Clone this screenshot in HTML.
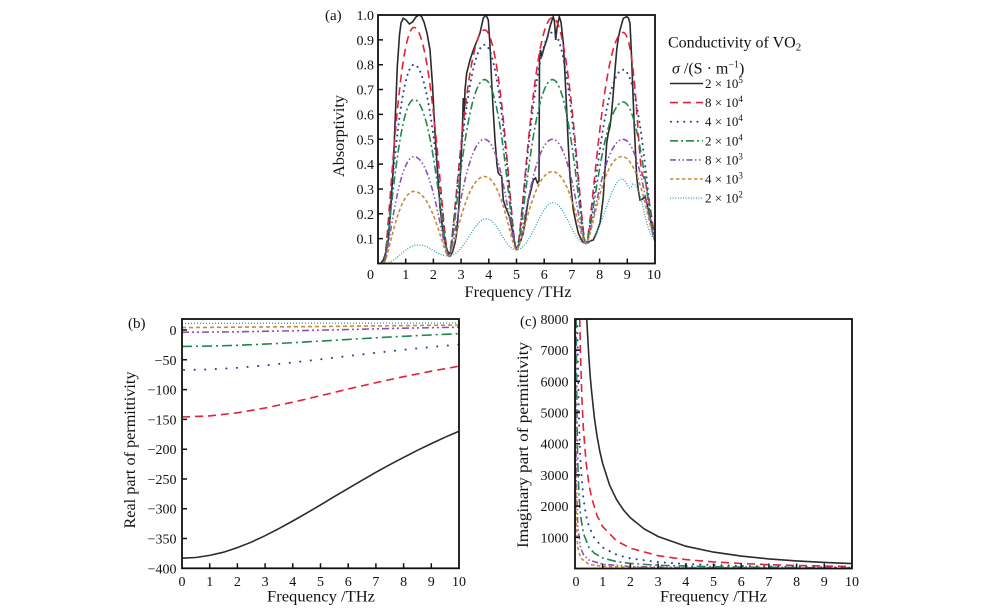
<!DOCTYPE html>
<html>
<head>
<meta charset="utf-8">
<style>
html,body{margin:0;padding:0;background:#fff;}
svg{display:block;}
text{font-family:"Liberation Serif",serif;fill:#111;}
</style>
</head>
<body>
<svg width="1000" height="610" viewBox="0 0 1000 610" xmlns="http://www.w3.org/2000/svg">
<rect x="0" y="0" width="1000" height="610" fill="#fff"/>
<defs>
<clipPath id="ca"><rect x="378" y="15" width="277" height="248.5"/></clipPath>
<clipPath id="cb"><rect x="182" y="319" width="277" height="249.3"/></clipPath>
<clipPath id="cc"><rect x="575" y="319" width="277" height="249.5"/></clipPath>
</defs>

<!-- ================= PANEL A ================= -->
<g clip-path="url(#ca)" fill="none" stroke-width="1.6">
<polyline stroke="#2b2b2b" stroke-width="1.6" points="380.5,263.5 383.3,260 386,252 388.3,240 390.5,212 393.3,166.7 395.5,112 397.3,66.7 399.5,35 401,23 403.3,18.3 406,20 409.3,24 412.5,22 416,17 419,15 421.5,16.5 424,22 427,33 430,50 432.5,85 435,133 437.5,172 440,207 442.5,228 445,243 447.5,251 450,256 452.5,252 455,243 456.7,233 459,205 461,160 462.5,125 463.3,98 464.2,112 465,90 466.7,73 470,60 473.3,50 476.5,42 480,33 483.3,18 486,15 488.3,20 490,45 491.7,83 493.3,112 495,140 497,165 498.3,173 500,175 501.7,176 502.5,190 503.3,200 505.5,207 508,213 510,218 511.7,227 513.5,237 515.5,246 516.7,248.6 518.5,246 521,240 523.3,233 526,215 528.3,200 531,190 533.3,180 535.5,178 537.5,183 539,181 539.5,60 540.5,50 541.7,56.7 544,48 546.7,40 550,26.7 552,20 553.3,16.7 554.5,22 555.7,40 557,28 559.3,16.7 561,22 563.3,43 565,75 566.7,110 568.3,145 570,176.7 571.7,195 573.3,210 576,223 578.3,233 581,239 583,242 585.8,243.6 588,242.5 590.5,241 593.3,240 596.5,233 600,223 601.5,212 603.3,196.7 605,170 606.7,143 608.3,133 610,126.7 611.7,112 613.3,93 615,70 616.7,50 618.3,38 620,30 623.3,18.3 626.7,16.7 628.5,18 630,23.3 631.7,60 633,95 634.3,126.7 635.5,152 636.7,176.7 638.3,190 640,200 642.5,199 645,196.7 646.7,202 648.3,210 650,218 651.7,227 653,234 654.5,240 656,243"/>
<!-- red -->
<path stroke="#e3223a" stroke-dasharray="8 5" d="M383.5,263.5 C388.1,263.5 397.2,27.4 414.0,27.4 C433.0,27.4 443.4,256.0 448.6,256.0 C454.0,256.0 464.8,29.9 484.6,29.9 C502.1,29.9 511.7,249.8 516.5,249.8 C521.9,249.8 532.7,17.5 552.5,17.5 C570.8,17.5 580.8,243.6 585.8,243.6 C591.4,243.6 602.6,32.4 623.1,32.4 C636,32.4 638,170 643,176 C646,180 649,200 655,238.6"/>
<!-- blue -->
<path stroke="#2a3f8f" stroke-width="2" stroke-linecap="round" stroke-dasharray="0.1 5.5" d="M383.5,263.5 C388.1,263.5 397.2,64.7 414.0,64.7 C433.0,64.7 443.4,256.0 448.6,256.0 C454.0,256.0 464.8,44.8 484.6,44.8 C502.1,44.8 511.7,249.8 516.5,249.8 C521.9,249.8 532.7,32.4 552.5,32.4 C570.8,32.4 580.8,243.6 585.8,243.6 C591.4,243.6 602.6,69.7 623.1,69.7 C640.6,69.7 650.2,238.6 655,238.6"/>
<!-- green -->
<path stroke="#21874a" stroke-dasharray="8 3 2 3" d="M383.5,263.5 C388.1,263.5 397.2,99.5 414.0,99.5 C433.0,99.5 443.4,256.0 448.6,256.0 C454.0,256.0 464.8,79.6 484.6,79.6 C502.1,79.6 511.7,249.8 516.5,249.8 C521.9,249.8 532.7,79.6 552.5,79.6 C570.8,79.6 580.8,243.6 585.8,243.6 C591.4,243.6 602.6,102.0 623.1,102.0 C640.6,102.0 650.2,238.6 655,238.6"/>
<!-- purple -->
<path stroke="#8a52b8" stroke-dasharray="6 2.5 1.5 2.5 1.5 2.5" d="M383.5,263.5 C388.1,263.5 397.2,156.6 414.0,156.6 C433.0,156.6 443.4,256.0 448.6,256.0 C454.0,256.0 464.8,139.3 484.6,139.3 C502.1,139.3 511.7,249.8 516.5,249.8 C521.9,249.8 532.7,139.3 552.5,139.3 C570.8,139.3 580.8,243.6 585.8,243.6 C591.4,243.6 602.6,139.3 623.1,139.3 C640.6,139.3 650.2,238.6 655,238.6"/>
<!-- orange -->
<path stroke="#c98a3a" stroke-dasharray="3.5 2.5" d="M383.5,263.5 C388.1,263.5 397.2,191.4 414.0,191.4 C433.0,191.4 443.4,256.0 448.6,256.0 C454.0,256.0 464.8,176.5 484.6,176.5 C502.1,176.5 511.7,249.8 516.5,249.8 C521.9,249.8 532.7,171.6 552.5,171.6 C570.8,171.6 580.8,243.6 585.8,243.6 C591.4,243.6 601.6,156.6 621.8,156.6 C640.6,156.6 650.2,238.6 655,238.6"/>
<!-- cyan -->
<path stroke="#35a9b8" stroke-width="1.4" stroke-dasharray="1 1.6" d="M383.5,263.5 C397.4,263.5 404.3,244.9 418.2,244.9 C430.4,244.9 436.4,256.0 448.6,256.0 C463.6,256.0 474.0,218.8 486.0,218.8 C498.2,218.8 504.3,249.8 516.5,249.8 C530.9,249.8 541.1,202.6 552.5,202.6 C565.8,202.6 572.5,243.6 585.8,243.6 C600.2,243.6 610.4,179.0 621.8,179.0 C625.5,179 628,188 630,188 C631.5,188 632,184 633,184 C642,184 646,238.6 655,238.6"/>
</g>
<rect x="378" y="15" width="277" height="248.5" fill="none" stroke="#111" stroke-width="1.8"/>
<g stroke="#111" stroke-width="1.5">
<path d="M405.7,263.5v-5M433.4,263.5v-5M461.1,263.5v-5M488.8,263.5v-5M516.5,263.5v-5M544.2,263.5v-5M571.9,263.5v-5M599.6,263.5v-5M627.3,263.5v-5"/>
<path d="M378,238.65h5M378,213.8h5M378,188.95h5M378,164.1h5M378,139.25h5M378,114.4h5M378,89.55h5M378,64.7h5M378,39.85h5"/>
</g>
<g font-size="14" text-anchor="end">
<text x="374" y="20">1.0</text>
<text x="374" y="44.9">0.9</text>
<text x="374" y="69.7">0.8</text>
<text x="374" y="94.6">0.7</text>
<text x="374" y="119.4">0.6</text>
<text x="374" y="144.3">0.5</text>
<text x="374" y="169.1">0.4</text>
<text x="374" y="194">0.3</text>
<text x="374" y="218.8">0.2</text>
<text x="374" y="243.7">0.1</text>
</g>
<g font-size="14" text-anchor="middle">
<text x="370.5" y="279">0</text>
<text x="405.7" y="279">1</text>
<text x="433.4" y="279">2</text>
<text x="461.1" y="279">3</text>
<text x="488.8" y="279">4</text>
<text x="516.5" y="279">5</text>
<text x="544.2" y="279">6</text>
<text x="571.9" y="279">7</text>
<text x="599.6" y="279">8</text>
<text x="627.3" y="279">9</text>
<text x="654" y="279">10</text>
</g>
<text x="325" y="20" font-size="15">(a)</text>
<text x="518" y="297" font-size="16" text-anchor="middle" textLength="107" lengthAdjust="spacingAndGlyphs">Frequency /THz</text>
<text transform="translate(344,136) rotate(-90)" font-size="16" text-anchor="middle" textLength="82" lengthAdjust="spacingAndGlyphs">Absorptivity</text>

<!-- legend -->
<text x="668" y="47.3" font-size="16">Conductivity of VO<tspan font-size="11" dy="3">2</tspan></text>
<text x="672" y="73.3" font-size="16"><tspan font-style="italic">σ</tspan> /(S · m<tspan font-size="10" dy="-6">−1</tspan><tspan dy="6">)</tspan></text>
<g fill="none" stroke-width="1.6">
<line x1="670" y1="83.5" x2="703" y2="83.5" stroke="#2b2b2b"/>
<line x1="670" y1="102.6" x2="703" y2="102.6" stroke="#e3223a" stroke-dasharray="8 5"/>
<line x1="671" y1="121.7" x2="703" y2="121.7" stroke="#2a3f8f" stroke-width="2" stroke-linecap="round" stroke-dasharray="0.1 6.5"/>
<line x1="670" y1="140.8" x2="703" y2="140.8" stroke="#21874a" stroke-dasharray="8 3 2 3"/>
<line x1="670" y1="159.9" x2="703" y2="159.9" stroke="#8a52b8" stroke-dasharray="6 2.5 1.5 2.5 1.5 2.5"/>
<line x1="670" y1="179" x2="703" y2="179" stroke="#c98a3a" stroke-dasharray="3.5 2.5"/>
<line x1="670" y1="198.1" x2="703" y2="198.1" stroke="#35a9b8" stroke-width="1.4" stroke-dasharray="1 1.6"/>
</g>
<g font-size="13">
<text x="705" y="88">2 × 10<tspan font-size="9" dy="-5">5</tspan></text>
<text x="705" y="107.1">8 × 10<tspan font-size="9" dy="-5">4</tspan></text>
<text x="705" y="126.2">4 × 10<tspan font-size="9" dy="-5">4</tspan></text>
<text x="705" y="145.3">2 × 10<tspan font-size="9" dy="-5">4</tspan></text>
<text x="705" y="164.4">8 × 10<tspan font-size="9" dy="-5">3</tspan></text>
<text x="705" y="183.5">4 × 10<tspan font-size="9" dy="-5">3</tspan></text>
<text x="705" y="202.6">2 × 10<tspan font-size="9" dy="-5">2</tspan></text>
</g>

<!-- ================= PANEL B ================= -->
<g clip-path="url(#cb)" fill="none" stroke-width="1.6">
<polyline stroke="#2b2b2b" points="182,558.2 195.85,557.5 209.7,555.4 223.55,552.2 237.4,547.6 251.25,542.2 265.1,535.7 278.95,528.6 292.8,521.0 306.65,513.1 320.5,504.9 334.35,496.6 348.2,488.4 362.05,480.3 375.9,472.3 389.75,464.7 403.6,457.4 417.45,450.3 431.3,443.6 445.15,437.2 459,431.2"/>
<polyline stroke="#e3223a" stroke-dasharray="8 5" points="182,417.0 209.7,415.9 237.4,412.8 265.1,408.0 292.8,402.2 320.5,395.7 348.2,389.0 375.9,382.7 403.6,376.7 431.3,371.2 459,366.2"/>
<polyline stroke="#2a3f8f" stroke-width="2" stroke-linecap="round" stroke-dasharray="0.1 10.5" points="184,369.9 209.7,369.4 237.4,367.8 265.1,365.4 292.8,362.5 320.5,359.3 348.2,356.0 375.9,352.8 403.6,349.8 431.3,347.0 459,344.5"/>
<polyline stroke="#21874a" stroke-dasharray="10 4 2 4" points="182,346.4 209.7,346.1 237.4,345.3 265.1,344.1 292.8,342.7 320.5,341.1 348.2,339.4 375.9,337.8 403.6,336.3 431.3,334.9 459,333.7"/>
<polyline stroke="#8a52b8" stroke-dasharray="7 3 2 3 2 3" points="182,332.3 237.4,331.8 292.8,330.8 348.2,329.5 403.6,328.2 459,327.2"/>
<polyline stroke="#c98a3a" stroke-dasharray="4 3" points="182,327.6 320.5,326.5 459,325.0"/>
<polyline stroke="#35a9b8" stroke-width="1.4" stroke-dasharray="1 2" points="182,323.4 459,323.0"/>
</g>
<rect x="182" y="319" width="277" height="249.3" fill="none" stroke="#111" stroke-width="1.8"/>
<g stroke="#111" stroke-width="1.5">
<path d="M209.7,568.3v-5M237.4,568.3v-5M265.1,568.3v-5M292.8,568.3v-5M320.5,568.3v-5M348.2,568.3v-5M375.9,568.3v-5M403.6,568.3v-5M431.3,568.3v-5"/>
<path d="M182,330h5M182,359.8h5M182,389.6h5M182,419.4h5M182,449.2h5M182,479h5M182,508.7h5M182,538.5h5"/>
</g>
<g font-size="14" text-anchor="end">
<text x="176.5" y="335">0</text>
<text x="176.5" y="364.8">−50</text>
<text x="176.5" y="394.6">−100</text>
<text x="176.5" y="424.4">−150</text>
<text x="176.5" y="454.2">−200</text>
<text x="176.5" y="484">−250</text>
<text x="176.5" y="513.7">−300</text>
<text x="176.5" y="543.5">−350</text>
<text x="176.5" y="573.3">−400</text>
</g>
<g font-size="14" text-anchor="middle">
<text x="182" y="586">0</text>
<text x="209.7" y="586">1</text>
<text x="237.4" y="586">2</text>
<text x="265.1" y="586">3</text>
<text x="292.8" y="586">4</text>
<text x="320.5" y="586">5</text>
<text x="348.2" y="586">6</text>
<text x="375.9" y="586">7</text>
<text x="403.6" y="586">8</text>
<text x="431.3" y="586">9</text>
<text x="459" y="586">10</text>
</g>
<text x="128" y="328" font-size="15">(b)</text>
<text x="321" y="601.5" font-size="16" text-anchor="middle" textLength="108" lengthAdjust="spacingAndGlyphs">Frequency /THz</text>
<text transform="translate(135,450) rotate(-90)" font-size="16" text-anchor="middle" textLength="157" lengthAdjust="spacingAndGlyphs">Real part of permittivity</text>

<!-- ================= PANEL C ================= -->
<g clip-path="url(#cc)" fill="none" stroke-width="1.6">
<polyline stroke="#2b2b2b" points="586.77,319 587.5,332.8 588.85,357.0 590.2,376.3 591.62,391.7 594.39,417.9 597.16,436.9 599.9,451.7 602.7,463.6 609.63,485.2 616.55,499.6 623.5,510.0 630.4,517.8 644.25,529.0 658.1,536.5 685.8,546.2 713.5,552.1 741.2,556.1 768.9,558.9 796.6,560.9 824.3,562.4 852,563.6"/>
<polyline stroke="#e3223a" stroke-dasharray="8 5" points="579.71,319 580.54,356.3 581.93,398.8 583.31,427.1 586.08,462.4 588.85,483.9 591.62,497.8 597.16,515.9 602.7,526.6 616.55,540.9 630.4,548.2 658.1,555.7 685.8,559.6 713.5,561.9 741.2,563.5 768.9,564.7 796.6,565.5 852,566.5"/>
<polyline stroke="#2a3f8f" stroke-width="2" stroke-linecap="round" stroke-dasharray="0.1 7" points="577.35,319 577.77,356.3 579.16,427.1 580.54,462.4 583.31,497.8 586.08,515.5 588.85,526.1 594.39,538.2 602.7,547.5 616.55,554.7 630.4,558.4 658.1,562.1 685.8,564.0 741.2,566.0 796.6,567.0 852,567.5"/>
<polyline stroke="#21874a" stroke-dasharray="9 3.5 2 3.5" points="576.18,319 576.39,356.3 577.08,427.1 577.77,462.4 579.16,497.8 580.54,515.5 583.31,533.1 588.85,547.3 594.39,553.3 602.7,558.0 616.55,561.6 630.4,563.4 658.1,565.3 713.5,566.8 852,568.0"/>
<polyline stroke="#8a52b8" stroke-dasharray="6 2.5 1.5 2.5 1.5 2.5" points="575.47,319 575.55,356 575.83,427 576.39,483.6 577.77,526.1 580.54,547.3 583.31,554.4 588.85,560.0 602.7,564.3 630.4,566.5 685.8,567.6 852,568.3"/>
<polyline stroke="#c98a3a" stroke-dasharray="3.5 2.5" points="575.24,319 575.28,356 575.55,462.4 576.39,526.1 577.77,547.3 580.54,557.9 588.85,564.3 602.7,566.4 658.1,567.9 852,568.4"/>
</g>
<rect x="575" y="319" width="277" height="249.5" fill="none" stroke="#111" stroke-width="1.8"/>
<g stroke="#111" stroke-width="1.5">
<path d="M602.7,568.5v-5M630.4,568.5v-5M658.1,568.5v-5M685.8,568.5v-5M713.5,568.5v-5M741.2,568.5v-5M768.9,568.5v-5M796.6,568.5v-5M824.3,568.5v-5"/>
<path d="M575,537.3h5M575,506.1h5M575,474.9h5M575,443.7h5M575,412.5h5M575,381.3h5M575,350.1h5"/>
</g>
<g font-size="14" text-anchor="end">
<text x="568.5" y="324">8000</text>
<text x="568.5" y="355.1">7000</text>
<text x="568.5" y="386.3">6000</text>
<text x="568.5" y="417.5">5000</text>
<text x="568.5" y="448.7">4000</text>
<text x="568.5" y="479.9">3000</text>
<text x="568.5" y="511.1">2000</text>
<text x="568.5" y="542.3">1000</text>
</g>
<g font-size="14" text-anchor="middle">
<text x="576" y="586">0</text>
<text x="602.7" y="586">1</text>
<text x="630.4" y="586">2</text>
<text x="658.1" y="586">3</text>
<text x="685.8" y="586">4</text>
<text x="713.5" y="586">5</text>
<text x="741.2" y="586">6</text>
<text x="768.9" y="586">7</text>
<text x="796.6" y="586">8</text>
<text x="824.3" y="586">9</text>
<text x="852" y="586">10</text>
</g>
<text x="520" y="326" font-size="15">(c)</text>
<text x="713.5" y="601.5" font-size="16" text-anchor="middle" textLength="107" lengthAdjust="spacingAndGlyphs">Frequency /THz</text>
<text transform="translate(528,445) rotate(-90)" font-size="16" text-anchor="middle" textLength="206" lengthAdjust="spacingAndGlyphs">Imaginary part of permittivity</text>
</svg>
</body>
</html>
